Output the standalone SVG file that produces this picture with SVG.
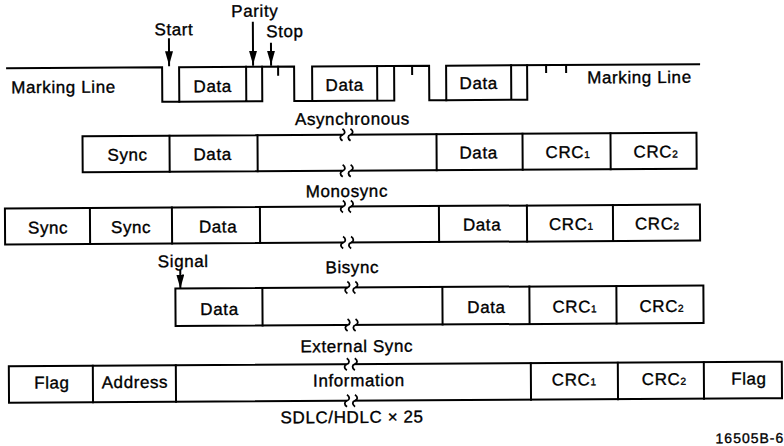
<svg xmlns="http://www.w3.org/2000/svg" width="784" height="446" viewBox="0 0 784 446">
<style>
  .ln{fill:none;stroke:#000;stroke-width:2;stroke-linecap:square}
  .bx{fill:#fff;stroke:#000;stroke-width:2}
  text{font-family:"Liberation Sans",Arial,Helvetica,sans-serif;font-size:17px;fill:#000;stroke:#000;stroke-width:0.35px;letter-spacing:0.6px}
  .c{text-anchor:middle}
  .sub{font-size:10px;letter-spacing:0}
  .sm{font-size:14px;letter-spacing:1px}
  .sq{fill:none;stroke:#000;stroke-width:1.8}
</style>
<defs>
  <marker id="ah" viewBox="0 0 14 8" markerWidth="14" markerHeight="8" refX="14" refY="4" orient="auto" markerUnits="userSpaceOnUse">
    <path d="M0,0 L14,4 L0,8 z" fill="#000"/>
  </marker>
  <g id="brk">
    <rect x="-4" y="-2.5" width="8" height="5" fill="#fff"/>
    <path class="sq" d="M-4,-6 C-1,-4 -1,-1 -4,0 C-7,1 -7,4 -4,6"/>
    <path class="sq" d="M4,-6 C7,-4 7,-1 4,0 C1,1 1,4 4,6"/>
  </g>
</defs>
<g transform="rotate(-0.33 392 223)">
  <g id="async-waveform">
    <path class="ln" d="M8,66 H163 V100.5 H180 V66 H295 V100.5 H313 V66 H430 V100.5 H447 V66 H700"/>
    <path class="ln" d="M180,100.5 H263 V66 M247,66 V100.5 M313,100.5 H395 V66 M378,66 V100.5 M447,100.5 H528 V66 M512,66 V100.5"/>
    <path class="ln" d="M279,66 V74 M413,66 V74 M547,66 V73 M567,66 V73"/>
    <text x="12" y="91">Marking Line</text>
    <text x="588" y="84.5">Marking Line</text>
    <text class="c" x="213.5" y="91">Data</text>
    <text class="c" x="345.5" y="90.5">Data</text>
    <text class="c" x="479.5" y="89.5">Data</text>
    <text class="c" x="175" y="34">Start</text>
    <text class="c" x="256" y="16">Parity</text>
    <text class="c" x="286" y="36.5">Stop</text>
    <text class="c" x="353" y="124.5">Asynchronous</text>
  </g>
  <g id="connectors">
    <line class="ln" x1="170" y1="38" x2="170" y2="64" marker-end="url(#ah)"/>
    <line class="ln" x1="254" y1="22" x2="254" y2="64" marker-end="url(#ah)"/>
    <line class="ln" x1="272" y1="43" x2="272" y2="64" marker-end="url(#ah)"/>
    <line class="ln" x1="180" y1="269.5" x2="180" y2="287.3" marker-end="url(#ah)"/>
  </g>
  <g id="monosync">
    <rect class="bx" x="83" y="134.5" width="614" height="36"/>
    <path class="ln" d="M170,134.5 V170.5 M258,134.5 V170.5 M437,134.5 V170.5 M523,134.5 V170.5 M611,134.5 V170.5"/>
    <use href="#brk" x="347" y="134.5"/>
    <use href="#brk" x="347" y="170.5"/>
    <text class="c" x="128" y="159">Sync</text>
    <text class="c" x="213" y="159">Data</text>
    <text class="c" x="479" y="159">Data</text>
    <text class="c" x="568" y="159">CRC<tspan class="sub">1</tspan></text>
    <text class="c" x="656" y="159">CRC<tspan class="sub">2</tspan></text>
    <text class="c" x="347" y="196.7">Monosync</text>
  </g>
  <g id="bisync">
    <rect class="bx" x="5" y="206.3" width="695" height="36"/>
    <path class="ln" d="M90,206.3 V242.3 M172,206.3 V242.3 M260,206.3 V242.3 M439,206.3 V242.3 M527,206.3 V242.3 M613,206.3 V242.3"/>
    <use href="#brk" x="347" y="206.3"/>
    <use href="#brk" x="347" y="242.3"/>
    <text class="c" x="48" y="231.5">Sync</text>
    <text class="c" x="131" y="231.5">Sync</text>
    <text class="c" x="218" y="231.5">Data</text>
    <text class="c" x="482" y="231">Data</text>
    <text class="c" x="571" y="231">CRC<tspan class="sub">1</tspan></text>
    <text class="c" x="657" y="231">CRC<tspan class="sub">2</tspan></text>
    <text class="c" x="352" y="272.8">Bisync</text>
  </g>
  <g id="external-sync">
    <rect class="bx" x="175" y="287.3" width="528" height="37.5"/>
    <path class="ln" d="M262,287.3 V324.8 M442,287.3 V324.8 M529,287.3 V324.8 M616,287.3 V324.8"/>
    <use href="#brk" x="351" y="287.3"/>
    <use href="#brk" x="351" y="324.8"/>
    <text x="183" y="265.8" class="c">Signal</text>
    <text class="c" x="219" y="314">Data</text>
    <text class="c" x="486" y="313.5">Data</text>
    <text class="c" x="574" y="313.5">CRC<tspan class="sub">1</tspan></text>
    <text class="c" x="661" y="313.5">CRC<tspan class="sub">2</tspan></text>
    <text class="c" x="356" y="351.8">External Sync</text>
  </g>
  <g id="sdlc-hdlc">
    <rect class="bx" x="8" y="364" width="773" height="36.5"/>
    <path class="ln" d="M92,364 V400.5 M175,364 V400.5 M530,364 V400.5 M617,364 V400.5 M703,364 V400.5"/>
    <use href="#brk" x="350" y="364"/>
    <use href="#brk" x="350" y="400.5"/>
    <text class="c" x="51" y="386.5">Flag</text>
    <text class="c" x="134" y="386.5">Address</text>
    <text class="c" x="358" y="386">Information</text>
    <text class="c" x="573" y="386.5">CRC<tspan class="sub">1</tspan></text>
    <text class="c" x="663" y="386.5">CRC<tspan class="sub">2</tspan></text>
    <text class="c" x="748" y="386.5">Flag</text>
    <text class="c" x="351" y="422.7">SDLC/HDLC × 25</text>
  </g>
  <text class="sm" x="783" y="445" text-anchor="end">16505B-6</text>
</g>
</svg>
